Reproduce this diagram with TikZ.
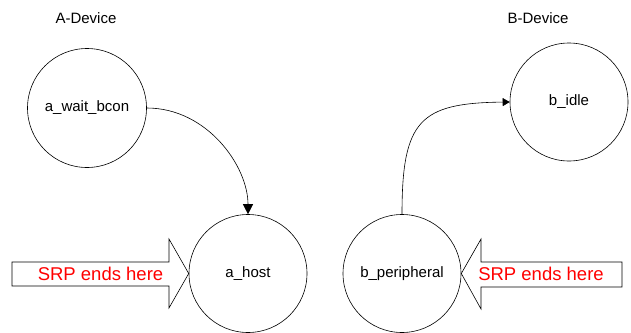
\documentclass[tikz,border=0pt]{standalone}
\usepackage{fontspec}
\setmainfont{Liberation Sans}
\usetikzlibrary{arrows.meta}
\begin{document}
\begin{tikzpicture}[x=1pt,y=-1pt,
  state/.style={circle,draw,line width=0.6pt,inner sep=0pt,font=\fontsize{15}{18}\selectfont},
  lbl/.style={font=\fontsize{15}{18}\selectfont},
  srp/.style={text=red,font=\fontsize{18.5}{22}\selectfont},
  fat/.style={draw,line width=0.6pt,fill=white},
  trans/.style={line width=0.6pt}]
\useasboundingbox (0,0) rectangle (631,332);
\node[lbl] (adev) at (86,18) {A-Device};
\node[lbl] (bdev) at (538,18) {B-Device};
\node[state,minimum size=119pt] (await) at (87,108) {a\_wait\_bcon};
\node[state,minimum size=118pt] (ahost) at (248,273.5) {a\_host};
\node[state,minimum size=118pt] (bidle) at (569,102) {b\_idle};
\node[state,minimum size=118pt] (bper) at (402,273.5) {b\_peripheral};
\draw[trans,-{Triangle[length=10pt,width=10pt]}] (await.east) .. controls (207,108) and (248,166) .. (ahost.north);
\draw[trans,-{Triangle[length=7pt,width=8pt]}] (bper.north) .. controls (402,120) and (420,103) .. (bidle.west);
\draw[fat] (12,262) -- (169,262) -- (169,239) -- (ahost.west) -- (169,308) -- (169,286) -- (12,286) -- cycle;
\draw[fat] (622,262) -- (481,262) -- (481,239) -- (bper.east) -- (481,309) -- (481,287) -- (622,287) -- cycle;
\node[srp] (srpa) at (100.5,274) {SRP ends here};
\node[srp] (srpb) at (541,274) {SRP ends here};
\end{tikzpicture}
\end{document}
